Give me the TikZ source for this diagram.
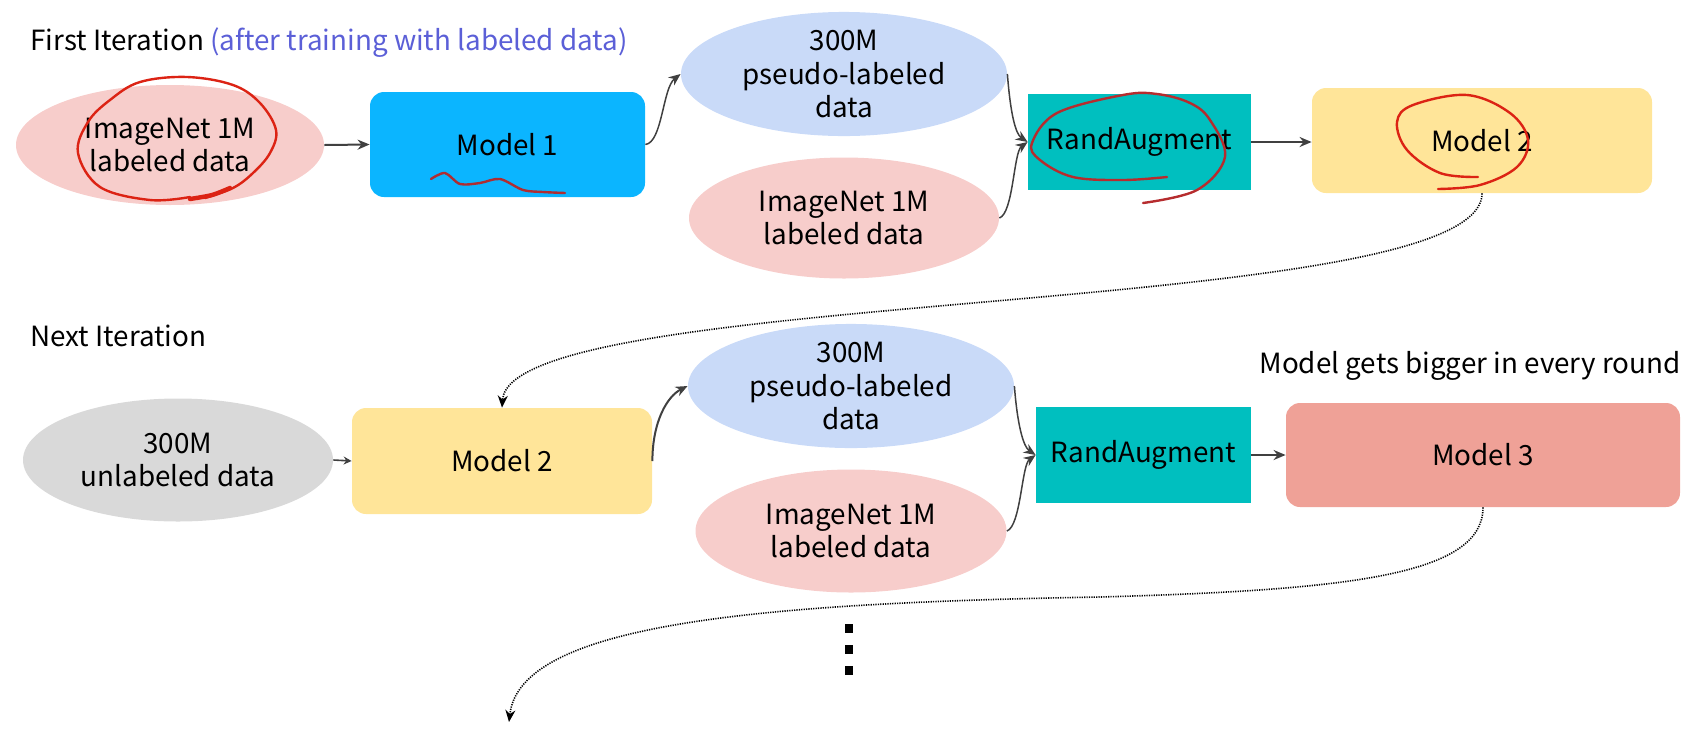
\documentclass[tikz,border=0pt]{standalone}
\usepackage{fontspec}
\setmainfont{Noto Sans CJK KR}
\usetikzlibrary{shapes.geometric,arrows.meta}
\definecolor{pinkE}{HTML}{F7CDCB}
\definecolor{blueE}{HTML}{C9DAF8}
\definecolor{grayE}{HTML}{D9D9D9}
\definecolor{mOneBlue}{HTML}{0BB5FF}
\definecolor{mTwoYel}{HTML}{FFE599}
\definecolor{mThreeRed}{HTML}{EFA197}
\definecolor{tealBox}{HTML}{00BFBF}
\definecolor{arrowGray}{HTML}{404040}
\definecolor{titleBlue}{HTML}{5B5FD7}
\definecolor{annRed}{HTML}{DC2314}
\definecolor{squigRed}{HTML}{AF2D32}
\begin{document}
\begin{tikzpicture}[x=0.5pt,y=-0.5pt,
  every node/.style={font=\fontsize{13.9}{16.75}\selectfont, text=black},
  ell/.style={ellipse, inner sep=0pt, align=center},
  mbox/.style={rectangle, rounded corners=7pt, inner sep=0pt, align=center},
  rabox/.style={rectangle, fill=tealBox, inner sep=0pt},
  conn/.style={draw=arrowGray, line width=1pt, -{Stealth[length=6pt,width=5pt]}},
  smallconn/.style={draw=arrowGray, line width=0.8pt, -{Stealth[length=4pt,width=4pt]}},
  thinconn/.style={draw=arrowGray, line width=0.75pt, -{Stealth[length=6pt,width=5pt]}},
  dotconn/.style={draw=black, line width=0.8pt, dash pattern=on 0.6pt off 0.6pt, -{Stealth[length=6pt,width=5pt]}},
  redmark/.style={draw=annRed, line width=1.2pt, line cap=round, line join=round},
  titletext/.style={inner sep=0pt},
]
\useasboundingbox (0,0) rectangle (1697,729);

% titles
\node[titletext, anchor=base west] (t1) at (30,50) {First Iteration \textcolor{titleBlue}{(after training with labeled data)}};
\node[titletext, anchor=base west] (t2) at (30,346) {Next Iteration};
\node[titletext, anchor=base] (t3) at (1470,373) {Model gets bigger in every round};

% row 1
\node[ell, fill=pinkE, minimum width=154pt, minimum height=60pt] (A1) at (170,145) {ImageNet 1M\\labeled data};
\node[mbox, fill=mOneBlue, minimum width=137.5pt, minimum height=52.5pt] (M1) at (507.5,144.5) {Model 1};
\node[ell, fill=blueE, minimum width=163pt, minimum height=59pt] (P1) at (844,74) {300M\\pseudo-labeled\\data};
\node[ell, fill=pinkE, minimum width=155pt, minimum height=60.5pt] (I1) at (844,218) {ImageNet 1M\\labeled data};
\node[rabox, minimum width=111.5pt, minimum height=48pt] (R1) at (1139.5,142) {RandAugment};
\node[mbox, fill=mTwoYel, minimum width=170pt, minimum height=52.5pt] (M2) at (1482,140.5) {Model 2};

% row 2
\node[ell, fill=grayE, minimum width=155pt, minimum height=61.5pt] (U) at (178,460) {300M\\unlabeled data};
\node[mbox, fill=mTwoYel, minimum width=150pt, minimum height=53pt] (M2b) at (502,461) {Model 2};
\node[ell, fill=blueE, minimum width=163pt, minimum height=61.5pt] (P2) at (851,386) {300M\\pseudo-labeled\\data};
\node[ell, fill=pinkE, minimum width=155.5pt, minimum height=61.5pt] (I2) at (851,531) {ImageNet 1M\\labeled data};
\node[rabox, minimum width=107.5pt, minimum height=48pt] (R2) at (1143.5,455) {RandAugment};
\node[mbox, fill=mThreeRed, minimum width=197pt, minimum height=52pt] (M3) at (1483,455) {Model 3};

\coordinate (nextEnd) at (509,722);

% connectors row 1
\draw[conn] (A1.east) -- (M1.west);
\draw[thinconn] (M1.east) .. controls +(17,-2) and +(-18,14) .. (P1.west);
\draw[thinconn] (P1.east) .. controls +(3,40) and +(-12,-8) .. (R1.west);
\draw[thinconn] (I1.east) .. controls +(14,-5) and +(-14,10) .. (R1.west);
\draw[conn] (R1.east) -- (R1.east -| M2.west);
\draw[dotconn] (M2.south) .. controls (1482,320) and (510,285) .. (M2b.north);

% connectors row 2
\draw[smallconn] (U.east) -- (M2b.west);
\draw[conn] (M2b.east) .. controls +(0,-40) and +(-20,10) .. (P2.west);
\draw[thinconn] (P2.east) .. controls +(3,40) and +(-12,-8) .. (R2.west);
\draw[thinconn] (I2.east) .. controls +(14,-5) and +(-14,10) .. (R2.west);
\draw[conn] (R2.east) -- (M3.west);
\draw[dotconn] (M3.south) .. controls (1483,575) and (1350,590) .. (1100,597) .. controls (750,603) and (520,625) .. (nextEnd);

% vertical dots
\fill (845,624) rectangle (853,633);
\fill (845,645) rectangle (853,654);
\fill (845,666) rectangle (853,675);

% hand-drawn annotations
\draw[redmark] plot[smooth, tension=0.6] coordinates {(190,197) (150,200) (100,187) (78,153) (88,122) (110,100) (140,82) (187,77) (233,85) (260,103) (276,130) (270,153) (253,173) (233,188) (205,198)};
\draw[redmark, line width=2.2pt] plot[smooth] coordinates {(190,199) (212,195) (230,188)};
\draw[redmark, draw=squigRed] plot[smooth, tension=0.5] coordinates {(431,179) (445,173) (460,184) (480,183) (500,179) (523,190) (543,192) (565,193)};
\draw[redmark, draw=squigRed!85!annRed] plot[smooth, tension=0.6] coordinates {(1167,177) (1123,180) (1073,177) (1040,160) (1032,143) (1057,113) (1123,95) (1157,94) (1190,103) (1210,120) (1225,157) (1197,190) (1143,203)};
\draw[redmark] plot[smooth, tension=0.6] coordinates {(1478,177) (1440,173) (1407,150) (1397,122) (1413,105) (1467,95) (1510,113) (1528,140) (1517,167) (1480,185) (1438,189)};
\end{tikzpicture}
\end{document}
